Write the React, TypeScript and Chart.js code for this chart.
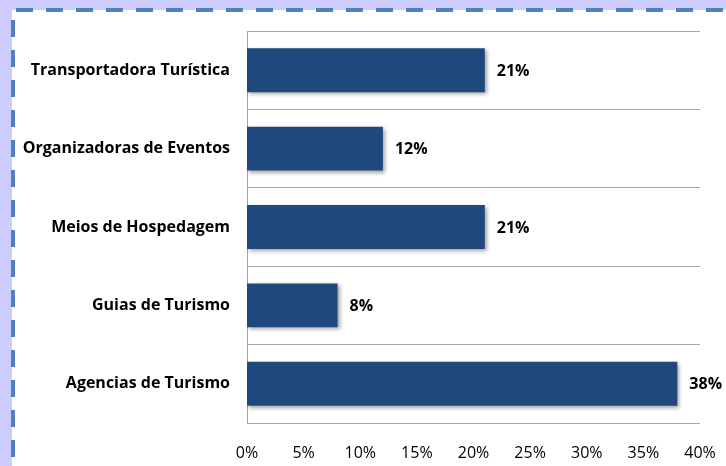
import React, { useEffect, useRef } from "react";
import { Chart, registerables } from "chart.js";

Chart.register(...registerables);

const categories = [
  "Transportadora Turística",
  "Organizadoras de Eventos",
  "Meios de Hospedagem",
  "Guias de Turismo",
  "Agencias de Turismo",
];
const values = [21, 12, 21, 8, 38];
const xMin = 0;
const xMax = 40;
const xStep = 5;

const FONT = "'Open Sans', sans-serif";

const framePlugin = {
  id: "frame",
  beforeDraw(chart: any) {
    const { ctx, width, height } = chart;
    ctx.save();
    ctx.fillStyle = "#ccccff";
    ctx.fillRect(0, 0, width, height);
    ctx.fillStyle = "#ffffff";
    ctx.fillRect(12, 10, width - 12, height - 10);
    ctx.strokeStyle = "#4F81BD";
    ctx.lineWidth = 4;
    ctx.setLineDash([17, 13]);
    ctx.beginPath();
    ctx.moveTo(16, 10);
    ctx.lineTo(width, 10);
    ctx.stroke();
    ctx.beginPath();
    ctx.moveTo(13, 20);
    ctx.lineTo(13, height);
    ctx.stroke();
    ctx.restore();
  },
};

const shadowPlugin = {
  id: "barShadow",
  beforeDatasetsDraw(chart: any) {
    const ctx = chart.ctx;
    ctx.save();
    ctx.shadowColor = "rgba(0,0,0,0.35)";
    ctx.shadowBlur = 4;
    ctx.shadowOffsetX = 2;
    ctx.shadowOffsetY = 2;
  },
  afterDatasetsDraw(chart: any) {
    const ctx = chart.ctx;
    ctx.restore();
    const meta = chart.getDatasetMeta(0);
    ctx.save();
    ctx.fillStyle = "#000000";
    ctx.font = `bold 16px ${FONT}`;
    ctx.textAlign = "left";
    ctx.textBaseline = "middle";
    meta.data.forEach((bar: any, i: number) => {
      ctx.fillText(`${values[i]}%`, bar.x + 12, bar.y + 1);
    });
    ctx.restore();
  },
};

export default function App() {
  const ref = useRef<HTMLCanvasElement | null>(null);
  useEffect(() => {
    if (!ref.current) return;
    const chart = new Chart(ref.current, {
      type: "bar",
      data: {
        labels: categories,
        datasets: [
          {
            data: values,
            backgroundColor: "#1F497D",
            borderWidth: 0,
            categoryPercentage: 1,
            barPercentage: 0.56,
          },
        ],
      },
      options: {
        indexAxis: "y",
        responsive: false,
        animation: false,
        layout: { padding: { top: 31, right: 26, left: 0, bottom: 0 } },
        plugins: {
          legend: { display: false },
          tooltip: { enabled: false },
        },
        scales: {
          x: {
            min: xMin,
            max: xMax,
            grid: { display: false },
            border: { display: false },
            ticks: {
              stepSize: xStep,
              padding: 13,
              color: "#000000",
              font: { family: FONT, size: 16 },
              callback: (v: any) => `${v}%`,
            },
            afterFit: (s: any) => {
              s.height = 43;
              s.paddingRight = 0;
              s.paddingLeft = 0;
            },
          },
          y: {
            grid: { offset: true, color: "#a6a6a6", drawTicks: false },
            border: { display: true, color: "#a6a6a6" },
            ticks: {
              padding: 17,
              color: "#000000",
              font: { family: FONT, size: 16, weight: "bold" },
            },
            afterFit: (s: any) => {
              s.width = 247;
              s.paddingTop = 0;
              s.paddingBottom = 0;
            },
          },
        },
      },
      plugins: [framePlugin, shadowPlugin],
    });
    return () => chart.destroy();
  }, []);
  return (
    <div style={{ position: "absolute", left: 0, top: 0, width: 726, height: 466 }}>
      <canvas ref={ref} width={726} height={466} />
    </div>
  );
}
